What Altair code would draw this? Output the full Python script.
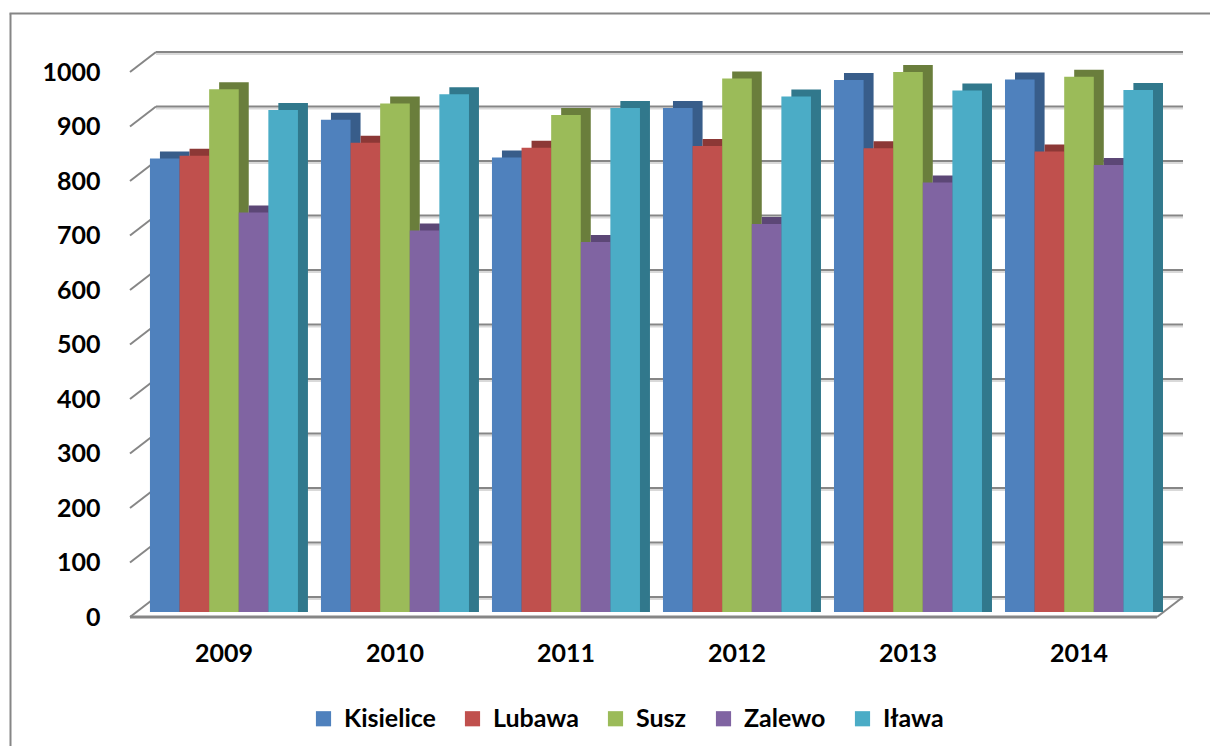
import altair as alt
import pandas as pd

years = ["2009", "2010", "2011", "2012", "2013", "2014"]
series = ["Kisielice", "Lubawa", "Susz", "Zalewo", "Iława"]
kisielice = [832, 903, 834, 925, 976, 977]
lubawa = [837, 861, 852, 855, 851, 845]
susz = [959, 933, 912, 979, 991, 982]
zalewo = [733, 700, 679, 712, 788, 820]
ilawa = [921, 950, 925, 946, 957, 958]
y_ticks = [0, 100, 200, 300, 400, 500, 600, 700, 800, 900, 1000]

front_colors = ["#4F81BD", "#C0504D", "#9BBB59", "#8064A2", "#4BACC6"]
side_colors = ["#385D8A", "#8C3836", "#6A7E3C", "#5C4776", "#31788C"]

W = 1027
H = 545
FONT = "Lato"
FS = 25

rows = []
for s, vals in zip(series, [kisielice, lubawa, susz, zalewo, ilawa]):
    for yr, v in zip(years, vals):
        rows.append({"year": yr, "series": s, "value": v})
df = pd.DataFrame(rows)
ticks_df = pd.DataFrame({"tick": y_ticks})
zero_df = pd.DataFrame({"tick": [0]})
one_df = pd.DataFrame({"a": [0]})

x_scale = alt.Scale(domain=years, paddingInner=0.1345, paddingOuter=0.07, align=0.833)
y_scale = alt.Scale(domain=[0, 1000], nice=False)
off_scale = alt.Scale(domain=series, paddingInner=0, paddingOuter=0)
off_scale_side = alt.Scale(domain=series, range=[10, 158], paddingInner=0, paddingOuter=0)

x_axis = alt.Axis(title=None, domain=False, ticks=False, labelAngle=0, labelFont=FONT,
                  labelFontSize=FS, labelFontWeight="bold", labelColor="#000000",
                  labelPadding=29)
y_axis = alt.Axis(title=None, domain=False, ticks=False, grid=False, values=y_ticks,
                  format="d", labelFont=FONT, labelFontSize=FS, labelFontWeight="bold",
                  labelColor="#000000", labelPadding=30, labelOffset=5)

GRID = "#868686"

border_left = alt.Chart(one_df).mark_rule(color=GRID, strokeWidth=2).encode(
    x=alt.value(-119.5), y=alt.value(-53.5), y2=alt.value(720))
border_top = alt.Chart(one_df).mark_rule(color=GRID, strokeWidth=2).encode(
    x=alt.value(-120.5), x2=alt.value(1120), y=alt.value(-53.5))

grid_shadow = alt.Chart(ticks_df).mark_rule(color="#d9d9d9", strokeWidth=2, yOffset=-13).encode(
    y=alt.Y("tick:Q", scale=y_scale, axis=y_axis), x=alt.value(26), x2=alt.value(W + 26))
grid_back = alt.Chart(ticks_df).mark_rule(color=GRID, strokeWidth=2, yOffset=-15).encode(
    y=alt.Y("tick:Q", scale=y_scale, axis=y_axis), x=alt.value(26), x2=alt.value(W + 26))
grid_diag = alt.Chart(ticks_df).mark_rule(color=GRID, strokeWidth=2, yOffset=5, y2Offset=-15).encode(
    y=alt.Y("tick:Q", scale=y_scale, axis=y_axis), y2="tick:Q",
    x=alt.value(0), x2=alt.value(26))
floor_front = alt.Chart(zero_df).mark_rule(color=GRID, strokeWidth=3, yOffset=5).encode(
    y=alt.Y("tick:Q", scale=y_scale, axis=y_axis), x=alt.value(0), x2=alt.value(W))
floor_right = alt.Chart(zero_df).mark_rule(color=GRID, strokeWidth=2, yOffset=5, y2Offset=-15).encode(
    y=alt.Y("tick:Q", scale=y_scale, axis=y_axis), y2="tick:Q",
    x=alt.value(W), x2=alt.value(W + 26))

side = alt.Chart(df).mark_bar(yOffset=-7, y2Offset=-7).encode(
    x=alt.X("year:N", scale=x_scale, axis=x_axis, sort=years),
    xOffset=alt.XOffset("series:N", scale=off_scale_side, sort=series),
    y=alt.Y("value:Q", scale=y_scale, axis=y_axis, stack=None),
    color=alt.Color("series:N", scale=alt.Scale(domain=series, range=side_colors), legend=None),
)
front = alt.Chart(df).mark_bar().encode(
    x=alt.X("year:N", scale=x_scale, axis=x_axis, sort=years),
    xOffset=alt.XOffset("series:N", scale=off_scale, sort=series),
    y=alt.Y("value:Q", scale=y_scale, axis=y_axis, stack=None),
    color=alt.Color("series:N", sort=series,
                    scale=alt.Scale(domain=series, range=front_colors),
                    legend=alt.Legend(title=None, orient="none", legendX=181, legendY=639,
                                      direction="horizontal", symbolType="square",
                                      symbolSize=230, symbolStrokeWidth=0,
                                      labelFont=FONT, labelFontSize=FS,
                                      labelFontWeight="bold", labelColor="#000000",
                                      labelOffset=8, columnPadding=24)),
)

chart = alt.layer(
    border_left, border_top, grid_shadow, grid_back, grid_diag, floor_front, floor_right,
    side, front
).resolve_scale(color="independent", xOffset="independent").properties(
    width=W, height=H,
    autosize=alt.AutoSizeParams(type="none"),
    padding={"left": 122, "top": 59, "right": 53, "bottom": 134},
    background="#ffffff",
).configure_view(stroke=None)

chart.save("out.html", embed_options={"renderer": "svg", "actions": False})
